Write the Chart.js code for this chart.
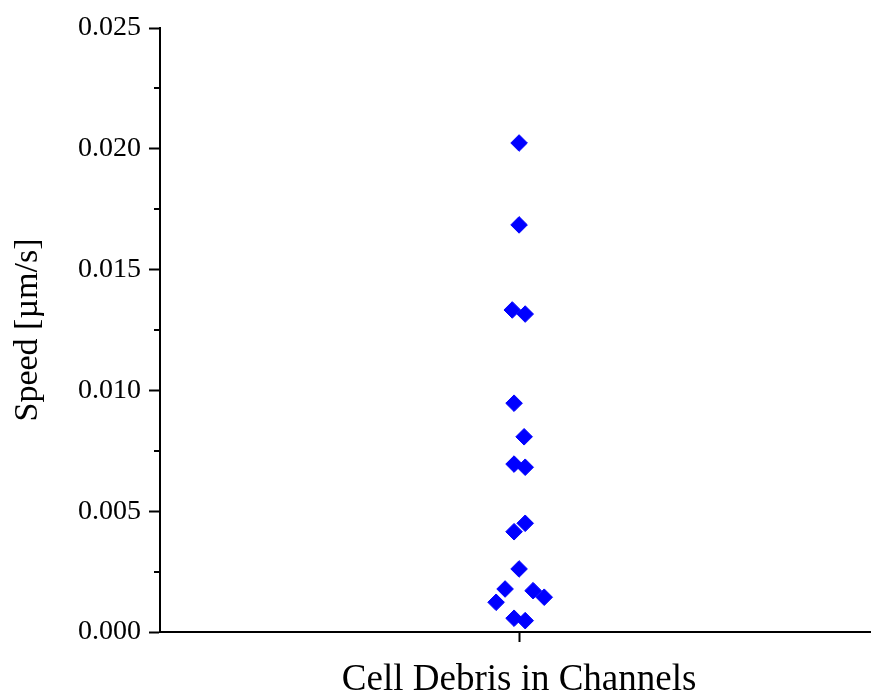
<!DOCTYPE html>
<html>
<head>
<meta charset="utf-8">
<script src="https://cdn.jsdelivr.net/npm/chart.js@4"></script>
<style>
  html, body { margin: 0; padding: 0; background: #fff; }
  #wrap { width: 871px; height: 694px; }
</style>
</head>
<body>
<div id="wrap"><canvas id="c" width="871" height="694"></canvas></div>
<script>
// ---- data ----
const categories = ["Cell Debris in Channels"];
const categoryPos = [1];
const xValues = [1.000, 1.000, 0.981, 1.017, 0.986, 1.014, 0.986, 1.017, 1.017, 0.986, 1.000, 0.961, 0.936, 1.039, 1.070, 0.986, 1.017];
const speeds  = [0.02024, 0.01685, 0.01333, 0.01316, 0.00947, 0.00808, 0.00695, 0.00682, 0.00450, 0.00415, 0.00261, 0.00178, 0.00123, 0.00171, 0.00144, 0.00057, 0.00047];
const yMajorTicks = [0, 0.005, 0.010, 0.015, 0.020, 0.025];
const yMinorTicks = [0.0025, 0.0075, 0.0125, 0.0175, 0.0225];
const yTitle = "Speed [\u00b5m/s]";

const points = xValues.map((x, i) => ({ x: x, y: speeds[i] }));

const minorTicks = {
  id: 'minorTicks',
  afterDraw(chart) {
    const y = chart.scales.y;
    const ctx = chart.ctx;
    ctx.save();
    ctx.strokeStyle = '#000';
    ctx.lineWidth = 2;
    yMinorTicks.forEach(v => {
      const py = Math.round(y.getPixelForValue(v));
      ctx.beginPath();
      ctx.moveTo(y.right - 6, py);
      ctx.lineTo(y.right, py);
      ctx.stroke();
    });
    ctx.restore();
  }
};

new Chart(document.getElementById('c'), {
  type: 'scatter',
  data: {
    datasets: [{
      data: points,
      pointStyle: 'rectRot',
      pointRadius: 8.3,
      pointHoverRadius: 8.3,
      backgroundColor: '#0000ff',
      borderColor: '#0000ff',
      borderWidth: 1
    }]
  },
  options: {
    responsive: false,
    animation: false,
    layout: { autoPadding: false, padding: { top: 28, right: 0, left: 0, bottom: 0 } },
    plugins: { legend: { display: false }, tooltip: { enabled: false } },
    scales: {
      x: {
        type: 'linear',
        min: 0,
        max: 1.98,
        afterFit(s) { s.height = 62; },
        afterBuildTicks(s) { s.ticks = categoryPos.map(v => ({ value: v })); },
        ticks: {
          autoSkip: false,
          maxRotation: 0,
          color: '#000',
          padding: 16,
          font: { family: 'Liberation Serif', size: 37 },
          callback: (v) => { const i = categoryPos.indexOf(v); return i >= 0 ? categories[i] : ''; }
        },
        grid: { drawOnChartArea: false, drawTicks: true, tickLength: 10, tickWidth: 2, tickColor: '#000' },
        border: { display: true, color: '#000', width: 2 }
      },
      y: {
        type: 'linear',
        min: 0,
        max: 0.025,
        afterFit(s) { s.width = 160; },
        afterBuildTicks(s) { s.ticks = yMajorTicks.map(v => ({ value: v })); },
        ticks: {
          color: '#000',
          padding: 8,
          font: { family: 'Liberation Serif', size: 28 },
          callback: (v) => v.toFixed(3)
        },
        title: {
          display: true,
          text: yTitle,
          color: '#000',
          font: { family: 'Liberation Serif', size: 34 },
          padding: { top: 8, bottom: 0 }
        },
        grid: { drawOnChartArea: false, drawTicks: true, tickLength: 11, tickWidth: 2, tickColor: '#000' },
        border: { display: true, color: '#000', width: 2 }
      }
    }
  },
  plugins: [minorTicks]
});
</script>
</body>
</html>
